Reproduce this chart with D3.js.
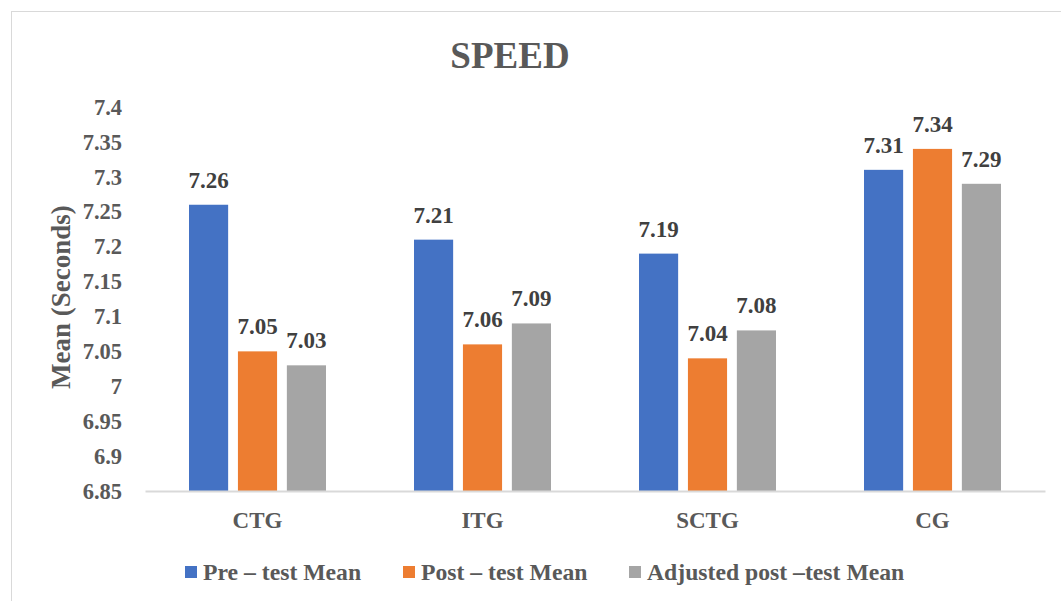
<!DOCTYPE html>
<html><head><meta charset="utf-8">
<script src="https://cdn.jsdelivr.net/npm/d3@7"></script>
<style>body{margin:0;background:#fff;}svg{display:block;font-family:"Liberation Serif","Times New Roman",serif;}</style>
</head><body>
<script>
const categories = ["CTG", "ITG", "SCTG", "CG"];
const seriesNames = ["Pre – test Mean", "Post – test Mean", "Adjusted post –test Mean"];
const preTest = [7.26, 7.21, 7.19, 7.31];
const postTest = [7.05, 7.06, 7.04, 7.34];
const adjustedPost = [7.03, 7.09, 7.08, 7.29];
const yTicks = [6.85, 6.9, 6.95, 7, 7.05, 7.1, 7.15, 7.2, 7.25, 7.3, 7.35, 7.4];
const colors = ["#4472C4", "#ED7D31", "#A5A5A5"];
const series = [preTest, postTest, adjustedPost];

(function () {
const W = 1061, H = 601;
const FF = "Liberation Serif, Times New Roman, serif";
const svg = d3.select("body").append("svg").attr("width", W).attr("height", H);
svg.append("rect").attr("x", 11.5).attr("y", 11.5).attr("width", W + 10).attr("height", H + 10)
  .attr("fill", "#fff").attr("stroke", "#d9d9d9").attr("stroke-width", 1);

const pL = 145, pR = 1045, pT = 107, pB = 491;
const x = d3.scaleBand().domain(categories).range([pL, pR]).paddingInner(0).paddingOuter(0);
const y = d3.scaleLinear().domain([6.85, 7.4]).range([pB, pT]);
const inner = d3.scaleBand().domain(d3.range(3)).range([0, 137]).paddingInner(0.2);

svg.append("text").attr("x", 510).attr("y", 68).attr("text-anchor", "middle")
  .attr("font-size", 37).attr("font-weight", "bold").attr("fill", "#595959").text("SPEED");

const yAxis = svg.append("g").attr("transform", `translate(${pL - 23},0)`)
  .call(d3.axisLeft(y).tickValues(yTicks).tickFormat(d => String(+d.toFixed(2))).tickSize(0).tickPadding(0));
yAxis.select(".domain").remove();
yAxis.selectAll("text").attr("font-size", 22.5).attr("font-weight", "bold").attr("fill", "#595959")
  .attr("font-family", FF);

svg.append("text").attr("transform", `translate(70,297) rotate(-90)`)
  .attr("text-anchor", "middle").attr("font-size", 27).attr("font-weight", "bold").attr("fill", "#595959")
  .text("Mean (Seconds)");

categories.forEach((c, ci) => {
  const g0 = x(c) + (x.bandwidth() - 137) / 2;
  series.forEach((s, si) => {
    const bx = g0 + inner(si);
    svg.append("rect").attr("x", bx).attr("y", y(s[ci])).attr("width", inner.bandwidth())
      .attr("height", pB - y(s[ci])).attr("fill", colors[si]);
    svg.append("text").attr("x", bx + inner.bandwidth() / 2).attr("y", y(s[ci]) - 17)
      .attr("text-anchor", "middle").attr("font-size", 23).attr("font-weight", "bold").attr("fill", "#404040")
      .text(s[ci].toFixed(2));
  });
});

const xAxis = svg.append("g").attr("transform", `translate(0,${pB})`)
  .call(d3.axisBottom(x).tickSize(0).tickPadding(0));
xAxis.select(".domain").attr("stroke", "#d9d9d9").attr("stroke-width", 2);
xAxis.selectAll("text").attr("font-size", 23).attr("font-weight", "bold").attr("fill", "#595959")
  .attr("font-family", FF).attr("dy", null).attr("y", 37);

const legendX = [185, 403, 629];
seriesNames.forEach((n, i) => {
  svg.append("rect").attr("x", legendX[i]).attr("y", 566).attr("width", 12).attr("height", 12).attr("fill", colors[i]);
  svg.append("text").attr("x", legendX[i] + 18).attr("y", 580).attr("font-size", 23.7).attr("font-weight", "bold")
    .attr("fill", "#595959").text(n);
});
})();
</script>
</body></html>
